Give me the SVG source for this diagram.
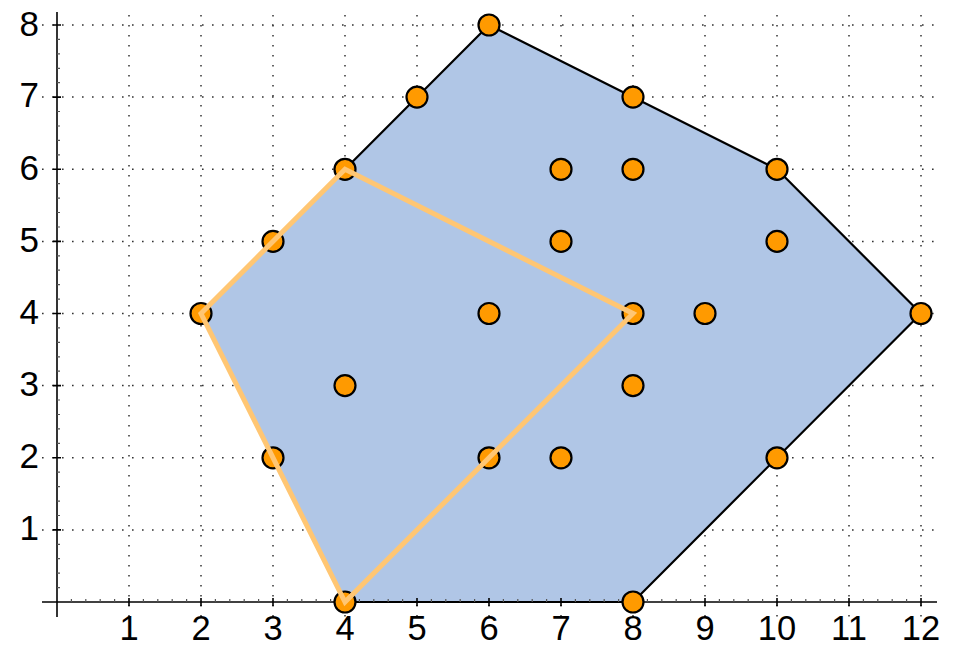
<svg xmlns="http://www.w3.org/2000/svg" width="963" height="647" viewBox="0 0 963 647">
<style>
.grid{stroke:#333;stroke-width:1.5;stroke-dasharray:1.6 8.4;fill:none}
.axis{stroke:#000;stroke-width:1.6;fill:none}
.tick{stroke:#555;stroke-width:1.2}
.lbl{font-family:"Liberation Sans",Arial,sans-serif;font-size:35px;fill:#000}
.xl{font-size:34.5px}
.pt{fill:#FF9A00;stroke:#000;stroke-width:2.2}
</style>
<rect width="963" height="647" fill="#fff"/>
<g id="grid">
<path class="grid" d="M129 15V617M201 15V617M273 15V617M345 15V617M417 15V617M489 15V617M561 15V617M633 15V617M705 15V617M777 15V617M849 15V617M921 15V617"/>
<path class="grid" d="M42 529.9H937M42 457.8H937M42 385.6H937M42 313.5H937M42 241.4H937M42 169.3H937M42 97.1H937M42 25H937"/>
</g>
<g id="hull">
<polygon points="345,602 633,602 921,313.5 777,169.3 489,25 201,313.5" fill="#B0C6E6" stroke="#000" stroke-width="2.2" stroke-linejoin="round"/>
</g>
<g id="axes">
<line class="axis" x1="42" y1="602" x2="937" y2="602"/>
<line class="axis" x1="57" y1="12" x2="57" y2="617"/>
<path class="tick" d="M71.4 602v-3M85.8 602v-3M100.2 602v-3M114.6 602v-3M143.4 602v-3M157.8 602v-3M172.2 602v-3M186.6 602v-3M215.4 602v-3M229.8 602v-3M244.2 602v-3M258.6 602v-3M287.4 602v-3M301.8 602v-3M316.2 602v-3M330.6 602v-3M359.4 602v-3M373.8 602v-3M388.2 602v-3M402.6 602v-3M431.4 602v-3M445.8 602v-3M460.2 602v-3M474.6 602v-3M503.4 602v-3M517.8 602v-3M532.2 602v-3M546.6 602v-3M575.4 602v-3M589.8 602v-3M604.2 602v-3M618.6 602v-3M647.4 602v-3M661.8 602v-3M676.2 602v-3M690.6 602v-3M719.4 602v-3M733.8 602v-3M748.2 602v-3M762.6 602v-3M791.4 602v-3M805.8 602v-3M820.2 602v-3M834.6 602v-3M863.4 602v-3M877.8 602v-3M892.2 602v-3M906.6 602v-3"/>
<path class="tick" d="M57 587.6h3M57 573.2h3M57 558.7h3M57 544.3h3M57 515.5h3M57 501.1h3M57 486.6h3M57 472.2h3M57 443.4h3M57 428.9h3M57 414.5h3M57 400.0h3M57 371.2h3M57 356.8h3M57 342.4h3M57 327.9h3M57 299.1h3M57 284.7h3M57 270.2h3M57 255.8h3M57 227.0h3M57 212.5h3M57 198.1h3M57 183.7h3M57 154.8h3M57 140.4h3M57 126.0h3M57 111.5h3M57 82.7h3M57 68.3h3M57 53.8h3M57 39.4h3"/>
<path class="axis" d="M129 598v8M201 598v8M273 598v8M345 598v8M417 598v8M489 598v8M561 598v8M633 598v8M705 598v8M777 598v8M849 598v8M921 598v8M53 529.9h8M53 457.8h8M53 385.6h8M53 313.5h8M53 241.4h8M53 169.3h8M53 97.1h8M53 25h8"/>
</g>
<g id="xlabels" class="lbl xl" text-anchor="middle">
<text x="129" y="639.5">1</text><text x="201" y="639.5">2</text><text x="273" y="639.5">3</text><text x="345" y="639.5">4</text><text x="417" y="639.5">5</text><text x="489" y="639.5">6</text><text x="561" y="639.5">7</text><text x="633" y="639.5">8</text><text x="705" y="639.5">9</text><text x="777" y="639.5">10</text><text x="849" y="639.5">11</text><text x="921" y="639.5">12</text>
</g>
<g id="ylabels" class="lbl" text-anchor="end">
<text x="39" y="540">1</text><text x="39" y="468">2</text><text x="39" y="396">3</text><text x="39" y="323.5">4</text><text x="39" y="251.5">5</text><text x="39" y="179.5">6</text><text x="39" y="107">7</text><text x="39" y="35.5">8</text>
</g>
<g id="points">
<circle class="pt" cx="489" cy="25" r="10.5"/>
<circle class="pt" cx="417" cy="97.1" r="10.5"/>
<circle class="pt" cx="633" cy="97.1" r="10.5"/>
<circle class="pt" cx="345" cy="169.3" r="10.5"/>
<circle class="pt" cx="561" cy="169.3" r="10.5"/>
<circle class="pt" cx="633" cy="169.3" r="10.5"/>
<circle class="pt" cx="777" cy="169.3" r="10.5"/>
<circle class="pt" cx="273" cy="241.4" r="10.5"/>
<circle class="pt" cx="561" cy="241.4" r="10.5"/>
<circle class="pt" cx="777" cy="241.4" r="10.5"/>
<circle class="pt" cx="201" cy="313.5" r="10.5"/>
<circle class="pt" cx="489" cy="313.5" r="10.5"/>
<circle class="pt" cx="633" cy="313.5" r="10.5"/>
<circle class="pt" cx="705" cy="313.5" r="10.5"/>
<circle class="pt" cx="921" cy="313.5" r="10.5"/>
<circle class="pt" cx="345" cy="385.6" r="10.5"/>
<circle class="pt" cx="633" cy="385.6" r="10.5"/>
<circle class="pt" cx="273" cy="457.8" r="10.5"/>
<circle class="pt" cx="489" cy="457.8" r="10.5"/>
<circle class="pt" cx="561" cy="457.8" r="10.5"/>
<circle class="pt" cx="777" cy="457.8" r="10.5"/>
<circle class="pt" cx="345" cy="602" r="10.5"/>
<circle class="pt" cx="633" cy="602" r="10.5"/>
</g>
<g id="quad">
<polygon points="201,313.5 345,169.3 633,313.5 345,602" fill="none" stroke="#FFC673" stroke-width="5" stroke-linejoin="miter"/>
</g>
</svg>
